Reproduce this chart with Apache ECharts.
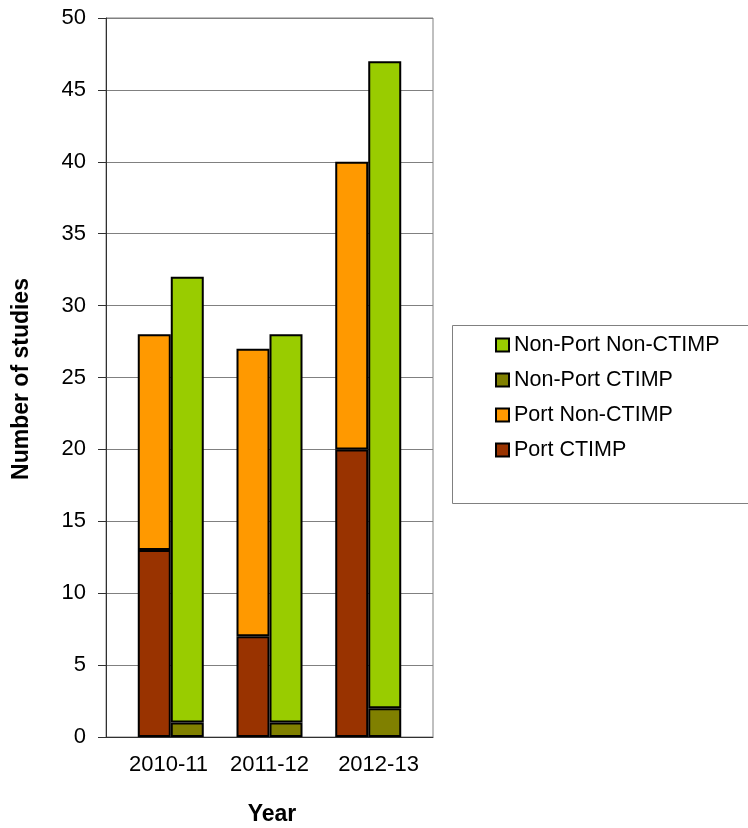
<!DOCTYPE html>
<html>
<head>
<meta charset="utf-8">
<script src="https://cdn.jsdelivr.net/npm/echarts@6/dist/echarts.min.js"></script>
<style>
  html, body { margin: 0; padding: 0; background: #fff; }
  #chart { width: 748px; height: 828px; }
</style>
</head>
<body>
<div id="chart"></div>
<script>
// Studies per year, split by site (Port / Non-Port) and trial type (CTIMP / Non-CTIMP)
const categories = ['2010-11', '2011-12', '2012-13'];
const portCtimp = [13, 7, 20];
const portNonCtimp = [15, 20, 20];
const nonPortCtimp = [1, 1, 2];
const nonPortNonCtimp = [31, 27, 45];
const yMin = 0, yMax = 50, yStep = 5;
const legendOrder = ['Non-Port Non-CTIMP', 'Non-Port CTIMP', 'Port Non-CTIMP', 'Port CTIMP'];

const FONT = '"Liberation Sans", Arial, sans-serif';
const chart = echarts.init(document.getElementById('chart'), null, { renderer: 'canvas' });

const barBorder = { borderColor: '#000', borderWidth: 2 };
function barSeries(name, stack, data, color) {
  return {
    name, type: 'bar', stack, data,
    xAxisIndex: 1, yAxisIndex: 1,
    barWidth: 33, barGap: '0%',
    itemStyle: Object.assign({ color }, barBorder),
    emphasis: { disabled: true },
    animation: false
  };
}

chart.setOption({
  animation: false,
  textStyle: { fontFamily: FONT },
  grid: [
    // frame, gridlines and labels
    { left: 106, right: 315, top: 18, bottom: 91, show: true, borderColor: '#808080', borderWidth: 1, backgroundColor: 'transparent' },
    // bar clusters
    { left: 121.4, right: 330.4, top: 18, bottom: 91 }
  ],
  xAxis: [
    {
      type: 'category', gridIndex: 0,
      data: categories.map((c, i) => i === 0 ? { value: c, textStyle: { padding: [0, 0, 0, 16] } } : c),
      axisLine: { lineStyle: { color: '#303030', width: 1 } },
      axisTick: { show: false },
      axisLabel: { color: '#000', fontSize: 22, fontFamily: FONT, margin: 17 },
      splitLine: { show: false }
    },
    {
      type: 'category', gridIndex: 1, data: categories,
      show: false
    }
  ],
  yAxis: [
    {
      type: 'value', gridIndex: 0, min: yMin, max: yMax, interval: yStep,
      axisLine: { show: true, lineStyle: { color: '#303030', width: 1 } },
      axisTick: { show: true, length: 8, lineStyle: { color: '#303030' } },
      axisLabel: { color: '#000', fontSize: 22, fontFamily: FONT, margin: 20 },
      splitLine: { show: true, lineStyle: { color: '#808080', width: 1 } }
    },
    {
      type: 'value', gridIndex: 1, min: yMin, max: yMax, interval: yStep,
      show: false, splitLine: { show: false }
    }
  ],
  legend: {
    data: legendOrder,
    orient: 'vertical',
    left: 490, top: 329,
    icon: 'rect',
    itemWidth: 13, itemHeight: 13,
    itemGap: 13,
    selectedMode: false,
    textStyle: { color: '#000', fontSize: 21.5, fontFamily: FONT }
  },
  graphic: [
    {
      type: 'rect', silent: true, z: -1,
      shape: { x: 452.5, y: 325.5, width: 320, height: 178 },
      style: { fill: '#fff', stroke: '#808080', lineWidth: 1 }
    },
    {
      type: 'text', silent: true,
      x: 22, y: 379, rotation: Math.PI / 2,
      style: { text: 'Number of studies', fill: '#000', font: 'bold 23px ' + FONT, textAlign: 'center', textVerticalAlign: 'middle' }
    },
    {
      type: 'text', silent: true,
      x: 272, y: 815,
      style: { text: 'Year', fill: '#000', font: 'bold 23px ' + FONT, textAlign: 'center', textVerticalAlign: 'middle' }
    }
  ],
  series: [
    barSeries('Port CTIMP', 'port', portCtimp, '#993300'),
    barSeries('Port Non-CTIMP', 'port', portNonCtimp, '#FF9900'),
    barSeries('Non-Port CTIMP', 'nonport', nonPortCtimp, '#808000'),
    barSeries('Non-Port Non-CTIMP', 'nonport', nonPortNonCtimp, '#99CC00')
  ]
});
</script>
</body>
</html>
